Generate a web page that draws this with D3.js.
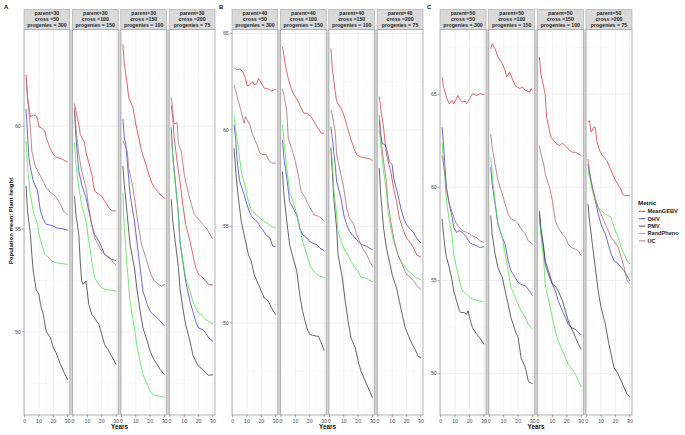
<!DOCTYPE html>
<html><head><meta charset="utf-8">
<script src="https://cdn.jsdelivr.net/npm/d3@7"></script>
<style>body{margin:0;background:#fff}svg{display:block}text{font-family:"Liberation Sans",Arial,sans-serif}</style>
</head><body><svg id="chart" width="685" height="435"></svg>
<script>
const z = (yrs, vals) => yrs.map((y, i) => [y, vals[i]]);

const metrics = ["MeanGEBV", "OHV", "PMV", "RandPheno", "UC"];
const metricColors = ["#c83a3a", "#3b3bb0", "#333333", "#4ddc4d", "#a9646c"];
const panelLetters = ["A", "B", "C"];
const parents = ["30", "40", "50"];
const crosses = ["50", "100", "150", "200"];
const progenies = ["300", "150", "100", "75"];
const xTicks = [0, 10, 20, 30];
const yTicksA = [50, 55, 60];
const yTicksB = [50, 55, 60, 65];
const yTicksC = [50, 55, 60, 65];

// ---- Panel A (parent=30)
const A1_MeanGEBV = z([1,2,4,6,8,9,10,12,14,15,18,19,20,22,26,30],[62.5,61.4,60.45,60.55,60.5,60.34,59.97,59.9,59.77,59.45,58.88,58.77,58.64,58.5,58.4,58.26]);
const A1_OHV = z([1,2,3,4,6,9,10,11,13,15,18,20,22,26,30],[60.83,59.6,58.47,57.99,57.34,56.85,56.36,55.88,55.47,55.23,55.19,55.15,55.06,55.02,54.94]);
const A1_PMV = z([1,2,4,5,6,8,10,11,13,15,18,20,22,25,27,30],[57.09,55.88,54.74,53.77,52.95,52.06,51.82,51.33,50.84,50.03,49.71,49.22,48.98,48.41,48.09,47.68]);
const A1_RandPheno = z([1,2,4,6,9,10,12,14,17,19,22,30],[59.29,57.99,56.69,55.88,55.23,54.74,54.25,53.77,53.6,53.44,53.36,53.28]);
const A1_UC = z([1,2,4,5,7,9,11,13,15,18,20,22,25,27,30],[62.37,61.4,59.94,58.8,58.15,57.82,57.58,57.31,57.01,56.77,56.69,56.53,56.2,55.88,55.67]);

const A2_MeanGEBV = z([1,2,4,5,8,9,11,13,15,18,20,22,25,27,30],[61.1,60.75,60.1,59.61,59.2,58.72,58.23,57.66,56.85,56.69,56.6,56.36,56.04,55.88,55.88]);
const A2_OHV = z([1,2,4,6,9,11,13,15,18,20,22,25,27,30],[60.75,59.45,57.82,57.17,56.53,55.88,55.23,54.74,54.42,54.09,53.77,53.6,53.52,53.47]);
const A2_PMV = z([1,2,4,5,6,7,9,11,13,15,18,20,22,25,27,30],[56.6,55.71,54.74,53.44,52.47,52.31,52.47,51.33,50.84,50.68,50.36,49.87,49.38,49.06,48.81,48.41]);
const A2_RandPheno = z([1,2,4,6,9,11,13,15,18,20,23,30],[59.2,58.15,57.01,56.2,55.39,54.42,53.44,52.63,52.31,52.14,52.06,51.98]);
const A2_UC = z([1,2,4,6,9,11,13,15,18,20,22,26,28,30],[60.9,59.93,58.64,57.82,57.01,56.04,55.23,54.58,54.17,53.93,53.77,53.6,53.36,53.25]);

const A3_MeanGEBV = z([1,2,4,5,8,10,12,14,17,19,21,23,26,28,30],[63.99,63.02,62.05,61.4,60.91,60.1,59.45,58.8,58.15,57.66,57.26,57.01,56.77,56.6,56.49]);
const A3_OHV = z([1,2,3,4,6,9,11,13,15,18,20,22,25,27,30],[60.34,59.45,59.12,58.31,56.69,55.39,54.25,53.12,51.98,51.33,51.01,50.84,50.68,50.52,50.28]);
const A3_PMV = z([1,2,4,6,9,11,13,15,18,20,22,25,27,30],[58.07,57.17,55.71,54.25,53.12,51.98,51.01,50.19,49.55,49.06,48.73,48.41,48.17,47.92]);
const A3_RandPheno = z([1,2,4,6,9,11,13,15,18,20,22,27,30],[56.77,55.06,53.12,51.49,50.19,49.22,48.57,47.92,47.44,47.11,46.95,46.87,46.82]);
const A3_UC = z([1,2,4,5,8,10,12,14,17,19,21,23,26,28,30],[59.29,59.12,58.8,57.99,57.01,56.04,55.06,54.25,53.6,53.12,52.71,52.47,52.31,52.22,52.31]);

const A4_MeanGEBV = z([1,2,3,5,7,9,11,14,16,18,20,23,25,27,30],[61.0,60.42,59.45,58.31,57.34,56.2,55.23,54.42,53.77,53.12,52.79,52.63,52.47,52.31,52.27]);
const A4_OHV = z([1,2,4,6,7,9,11,14,16,18,20,23,25,27,30],[59.94,58.64,57.17,55.71,54.42,53.44,52.47,51.49,51.01,50.52,50.19,50.11,49.95,49.71,49.55]);
const A4_PMV = z([1,2,4,6,7,9,11,14,16,18,20,23,25,27,30],[56.44,55.39,54.25,53.12,52.14,51.17,50.36,49.55,48.9,48.57,48.33,48.17,48.0,47.89,47.92]);
const A4_RandPheno = z([1,2,4,6,7,9,11,14,16,18,20,23,25,27,30],[59.6,58.47,57.01,55.71,54.42,53.44,52.63,51.98,51.49,51.17,50.93,50.76,50.6,50.52,50.39]);
const A4_UC = z([1,2,3,5,6,8,10,13,15,17,19,22,24,26,30],[61.4,60.75,60.1,60.18,59.12,58.8,57.66,56.69,56.2,55.71,55.55,55.31,55.15,54.98,54.5]);

// ---- Panel B (parent=40)
const B1_MeanGEBV = z([1,3,5,7,9,10,12,14,15,17,18,20,22,25,27,30],[63.22,63.1,63.16,63.02,62.67,62.29,62.33,62.5,62.33,62.41,62.67,62.41,62.16,62.12,62.02,62.1]);
const B1_OHV = z([1,2,3,4,5,8,10,12,14,17,19,21,23,26,28,30],[60.26,59.57,58.53,57.84,57.33,56.64,56.12,55.69,55.43,55.26,55.0,54.83,54.57,54.4,53.97,53.97]);
const B1_PMV = z([1,2,3,4,6,9,11,13,15,18,20,22,25,27,30],[59.05,58.02,57.16,56.47,55.26,54.22,53.53,53.19,52.5,51.98,51.64,51.29,51.12,50.78,50.43]);
const B1_RandPheno = z([1,2,4,6,9,11,13,15,18,20,22,25,27,30],[60.74,60.09,59.05,57.84,56.98,56.29,55.86,55.69,55.52,55.34,55.26,55.12,55.0,54.91]);
const B1_UC = z([1,2,4,6,8,9,10,12,14,17,19,21,23,25,27,30],[62.33,62.07,61.47,60.95,60.34,60.69,60.52,60.26,59.74,59.22,58.79,58.71,58.74,58.45,58.28,58.28]);

const B2_MeanGEBV = z([1,3,5,7,9,12,14,16,18,21,23,25,28,30],[64.31,63.36,62.67,62.16,61.81,61.47,61.12,60.86,60.86,60.69,60.43,60.17,59.83,59.83]);
const B2_OHV = z([1,2,4,6,9,11,13,15,18,20,22,25,27,30],[59.48,58.53,57.5,56.29,55.86,55.6,54.91,54.57,54.4,54.22,54.14,54.05,53.88,53.74]);
const B2_PMV = z([1,2,4,6,9,11,13,15,18,20,22,25,26,28,30],[57.84,56.64,55.26,54.05,53.19,52.67,51.47,50.6,49.74,49.4,49.36,49.31,49.31,48.97,48.57]);
const B2_RandPheno = z([1,2,4,6,9,11,13,15,18,20,22,25,27,30],[60.26,59.4,58.02,56.81,56.12,55.6,54.91,54.22,53.53,53.02,52.76,52.5,52.41,52.36]);
const B2_UC = z([1,2,4,5,8,10,12,14,17,19,21,23,26,28,30],[62.12,61.81,60.95,59.57,58.88,58.36,57.67,56.81,56.47,56.12,55.86,55.6,55.52,55.43,55.26]);

const B3_MeanGEBV = z([1,2,4,5,8,10,12,14,17,19,21,23,26,28,30],[64.22,63.19,61.98,61.47,61.12,60.78,60.26,59.74,59.05,58.71,58.62,58.57,58.53,58.5,58.4]);
const B3_OHV = z([1,2,4,5,8,10,12,14,17,19,21,23,26,28,30],[60.17,59.57,58.19,57.33,56.47,55.6,55.09,54.74,54.48,54.31,54.14,54.05,53.97,53.88,53.79]);
const B3_PMV = z([1,2,3,5,6,9,11,13,15,18,20,22,25,27,30],[59.05,57.84,56.47,54.91,53.53,52.33,51.12,50.09,49.22,48.71,48.02,47.5,46.98,46.64,46.12]);
const B3_RandPheno = z([1,2,3,5,6,9,11,13,15,18,20,22,25,27,30],[59.14,58.36,56.98,55.6,54.74,54.05,53.71,53.53,53.19,52.84,52.67,52.36,52.33,52.24,52.12]);
const B3_UC = z([1,2,4,5,8,10,12,14,17,19,21,23,26,28,30],[61.03,60.78,59.91,58.71,57.67,56.98,55.95,55.43,55.09,54.57,54.22,53.88,53.53,53.19,52.93]);

const B4_MeanGEBV = z([1,2,4,6,9,11,13,15,18,20,22,25,27,30],[61.72,61.12,60.09,58.71,57.84,56.98,56.29,55.43,54.74,54.4,54.22,53.88,53.53,53.4]);
const B4_OHV = z([1,2,3,5,6,8,10,11,14,16,18,20,23,25,27,30],[60.52,59.74,59.31,59.22,59.05,58.36,58.19,57.5,56.64,55.95,55.43,55.09,54.83,54.66,54.4,54.14]);
const B4_PMV = z([1,2,4,6,8,10,13,15,17,19,22,24,26,28,30],[58.02,56.64,54.91,53.88,53.19,52.5,51.81,51.12,50.43,49.74,49.22,48.88,48.62,48.28,48.19]);
const B4_RandPheno = z([1,2,4,6,7,9,11,14,16,18,20,23,25,27,30],[60.0,59.22,57.84,56.81,55.78,54.91,54.22,53.53,53.19,53.02,52.76,52.59,52.41,52.33,52.24]);
const B4_UC = z([1,2,4,6,7,9,11,14,16,18,20,23,25,27,30],[60.78,59.74,58.36,57.33,56.29,55.26,54.4,53.53,53.19,52.84,52.5,52.33,52.16,51.95,51.72]);

// ---- Panel C (parent=50)
const C1_MeanGEBV = z([1,2,4,6,8,9,11,12,13,15,17,18,20,22,25,27,30],[65.91,65.38,64.84,64.48,64.66,64.48,64.75,64.93,64.75,64.57,64.62,64.48,64.75,65.02,64.93,65.02,64.98]);
const C1_OHV = z([1,2,3,4,6,8,9,11,13,15,18,20,22,25,27,30],[63.23,62.33,61.08,60.0,59.1,58.39,57.85,57.58,57.67,57.58,57.31,57.04,56.95,56.86,56.77,56.81]);
const C1_PMV = z([1,2,3,4,6,8,9,11,13,14,16,18,19,20,22,25,27,30],[58.3,57.49,56.77,56.24,55.7,54.98,54.44,53.91,53.37,53.28,53.28,53.19,53.37,53.01,52.47,52.11,51.94,51.58]);
const C1_RandPheno = z([1,2,3,4,6,8,9,11,13,15,18,20,22,25,27,30],[62.42,61.43,60.36,59.28,58.21,57.31,56.42,55.7,54.98,54.44,54.27,54.09,54.0,53.94,53.9,53.87]);
const C1_UC = z([1,2,3,4,6,8,9,11,13,15,18,20,22,25,27,30],[61.7,61.25,60.72,59.82,59.1,58.66,58.39,58.03,57.85,57.67,57.58,57.49,57.4,57.31,57.13,57.04]);

const C2_MeanGEBV = z([1,2,4,6,9,11,12,14,16,18,21,23,25,28,29,30],[67.44,67.71,67.44,66.99,66.63,66.27,65.91,66.18,65.82,65.47,65.29,65.38,65.2,65.11,65.29,65.2]);
const C2_OHV = z([1,2,4,6,9,11,13,15,18,20,22,25,27,30],[61.08,60.18,59.1,58.03,57.31,56.95,56.06,55.52,55.16,54.89,54.8,54.71,54.53,54.18]);
const C2_PMV = z([1,2,4,6,9,11,13,15,18,20,22,25,27,28,30],[58.48,57.49,56.42,55.7,55.16,54.44,53.73,53.01,52.29,51.94,50.86,50.32,49.61,49.52,49.46]);
const C2_RandPheno = z([1,2,4,6,9,11,13,15,18,20,22,25,27,30],[61.61,60.72,59.28,58.03,57.31,56.42,55.52,54.62,54.09,53.73,53.37,53.01,52.65,52.38]);
const C2_UC = z([1,2,4,6,9,11,13,15,18,20,22,25,27,30],[62.87,62.15,61.25,60.36,59.64,59.1,58.57,58.3,58.21,58.03,57.76,57.49,57.13,56.95]);

const C3_MeanGEBV = z([1,2,4,5,6,8,9,11,13,15,17,20,22,24,26,28,30],[66.99,66.09,65.38,65.02,63.76,63.05,62.69,62.51,62.33,62.24,62.37,62.15,61.97,61.88,61.88,61.79,61.7]);
const C3_OHV = z([1,2,4,5,8,10,12,14,17,19,21,23,26,28,30],[58.57,57.67,56.6,55.88,55.16,54.8,54.44,53.91,53.37,53.01,52.65,52.47,52.38,52.2,52.08]);
const C3_PMV = z([1,2,4,5,8,10,12,14,17,19,21,23,26,28,30],[58.75,57.85,56.77,56.06,55.34,54.8,54.71,54.44,53.91,53.37,52.83,52.47,51.94,51.58,51.31]);
const C3_RandPheno = z([1,2,4,5,8,10,12,14,17,19,21,23,26,28,30],[58.21,57.49,56.06,54.8,53.73,53.01,52.29,51.76,51.22,50.86,50.5,50.32,49.96,49.61,49.28]);
const C3_UC = z([1,2,4,5,8,10,12,14,17,19,21,23,26,28,30],[62.24,61.79,61.25,60.72,60.0,59.28,58.21,57.85,57.49,57.31,56.95,56.77,56.68,56.59,56.33]);

const C4_MeanGEBV = z([1,2,3,5,6,7,9,11,14,16,18,20,23,25,26,30],[63.49,63.58,62.96,63.23,63.23,62.51,61.97,61.7,61.43,61.08,60.72,60.36,60.0,59.64,59.55,59.55]);
const C4_OHV = z([1,2,4,6,8,10,13,15,17,19,22,24,26,28,30],[61.25,60.72,60.0,59.28,58.57,58.03,57.49,56.95,56.42,56.06,55.88,55.7,55.52,55.25,54.98]);
const C4_PMV = z([1,2,4,6,8,10,13,15,17,19,22,24,26,28,30],[59.1,58.21,56.95,55.7,54.44,53.55,52.65,51.76,51.04,50.32,49.96,49.61,49.25,48.89,48.75]);
const C4_RandPheno = z([1,2,4,6,8,10,13,15,17,19,22,24,26,28,30],[60.9,60.54,59.82,59.28,58.92,58.75,58.57,58.48,58.39,57.85,57.31,56.77,56.42,56.06,55.88]);
const C4_UC = z([1,2,4,6,8,10,13,15,17,19,22,24,26,28,30],[61.52,60.9,60.0,59.46,58.92,58.57,58.03,57.67,57.31,57.13,56.77,56.24,55.7,54.98,54.84]);

const facetData = [
  [[A1_MeanGEBV,A1_OHV,A1_PMV,A1_RandPheno,A1_UC],[A2_MeanGEBV,A2_OHV,A2_PMV,A2_RandPheno,A2_UC],[A3_MeanGEBV,A3_OHV,A3_PMV,A3_RandPheno,A3_UC],[A4_MeanGEBV,A4_OHV,A4_PMV,A4_RandPheno,A4_UC]],
  [[B1_MeanGEBV,B1_OHV,B1_PMV,B1_RandPheno,B1_UC],[B2_MeanGEBV,B2_OHV,B2_PMV,B2_RandPheno,B2_UC],[B3_MeanGEBV,B3_OHV,B3_PMV,B3_RandPheno,B3_UC],[B4_MeanGEBV,B4_OHV,B4_PMV,B4_RandPheno,B4_UC]],
  [[C1_MeanGEBV,C1_OHV,C1_PMV,C1_RandPheno,C1_UC],[C2_MeanGEBV,C2_OHV,C2_PMV,C2_RandPheno,C2_UC],[C3_MeanGEBV,C3_OHV,C3_PMV,C3_RandPheno,C3_UC],[C4_MeanGEBV,C4_OHV,C4_PMV,C4_RandPheno,C4_UC]]
];

// ---- layout
const panels = [
  {left: 24, right: 215, yDomain: [45.96, 64.71], ticks: yTicksA, letterX: 4},
  {left: 232, right: 423, yDomain: [45.23, 65.21], ticks: yTicksB, letterX: 219},
  {left: 440, right: 632, yDomain: [47.78, 68.48], ticks: yTicksC, letterX: 427}
];
const stripTop = 9.3, plotTop = 29.3, plotBottom = 415, gap = 2.6;
const xDomain = [-0.45, 31.45];

const svg = d3.select("#chart");
svg.append("rect").attr("width", 685).attr("height", 435).attr("fill", "#fff");

panels.forEach((P, pi) => {
  const fw = (P.right - P.left - 3 * gap) / 4;
  const y = d3.scaleLinear().domain(P.yDomain).range([plotBottom, plotTop]);
  const g = svg.append("g");

  // panel letter
  g.append("text").attr("x", P.letterX).attr("y", 8.5).attr("font-size", 6).attr("font-weight", "bold").attr("fill", "#111").text(panelLetters[pi]);

  // gaps between facets
  for (let f = 1; f < 4; f++) {
    const gx = P.left + f * (fw + gap) - gap;
    g.append("rect").attr("x", gx).attr("y", plotTop).attr("width", gap).attr("height", plotBottom - plotTop).attr("fill", "#d4d4d4");
  }

  // y axis ticks
  const yMinor = d3.range(Math.ceil(P.yDomain[0] / 2.5) * 2.5, P.yDomain[1], 2.5).filter(v => Math.abs(v % 5) > 0.01);
  P.ticks.forEach(t => {
    g.append("line").attr("x1", P.left - 2.3).attr("x2", P.left).attr("y1", y(t)).attr("y2", y(t)).attr("stroke", "#444").attr("stroke-width", 0.5);
    g.append("text").attr("x", P.left - 3.2).attr("y", y(t)).attr("dy", "0.35em").attr("text-anchor", "end").attr("font-size", 5.3).attr("fill", "#4d4d4d").text(t);
  });

  for (let f = 0; f < 4; f++) {
    const x0 = P.left + f * (fw + gap);
    const x = d3.scaleLinear().domain(xDomain).range([x0, x0 + fw]);
    const fg = g.append("g");
    fg.append("rect").attr("x", x0).attr("y", plotTop).attr("width", fw).attr("height", plotBottom - plotTop).attr("fill", "#fff");
    // minor grid
    [5, 15, 25].forEach(v => fg.append("line").attr("x1", x(v)).attr("x2", x(v)).attr("y1", plotTop).attr("y2", plotBottom).attr("stroke", "#f2f2f2").attr("stroke-width", 0.4));
    yMinor.forEach(v => fg.append("line").attr("x1", x0).attr("x2", x0 + fw).attr("y1", y(v)).attr("y2", y(v)).attr("stroke", "#f2f2f2").attr("stroke-width", 0.4));
    // major grid
    xTicks.forEach(v => fg.append("line").attr("x1", x(v)).attr("x2", x(v)).attr("y1", plotTop).attr("y2", plotBottom).attr("stroke", "#e8e8e8").attr("stroke-width", 0.7));
    P.ticks.forEach(v => fg.append("line").attr("x1", x0).attr("x2", x0 + fw).attr("y1", y(v)).attr("y2", y(v)).attr("stroke", "#e8e8e8").attr("stroke-width", 0.7));

    // lines
    const line = d3.line().x(d => x(d[0])).y(d => y(d[1]));
    facetData[pi][f].forEach((series, mi) => {
      fg.append("path").attr("d", line(series)).attr("fill", "none").attr("stroke", metricColors[mi]).attr("stroke-width", 0.75).attr("stroke-linejoin", "round");
    });

    // border
    fg.append("rect").attr("x", x0).attr("y", plotTop).attr("width", fw).attr("height", plotBottom - plotTop).attr("fill", "none").attr("stroke", "#a8a8a8").attr("stroke-width", 0.9);

    // strip
    fg.append("rect").attr("x", x0).attr("y", stripTop).attr("width", fw).attr("height", plotTop - stripTop).attr("fill", "#d9d9d9").attr("stroke", "#a8a8a8").attr("stroke-width", 0.6);
    const lines = ["parent=" + parents[pi], "cross =" + crosses[f], "progenies = " + progenies[f]];
    lines.forEach((s, li) => {
      fg.append("text").attr("x", x0 + fw / 2).attr("y", stripTop + 5.4 + li * 6.25).attr("text-anchor", "middle").attr("font-size", 5.2).attr("font-weight", "bold").attr("fill", "#262626").text(s);
    });

    // x axis
    xTicks.forEach(v => {
      fg.append("line").attr("x1", x(v)).attr("x2", x(v)).attr("y1", plotBottom).attr("y2", plotBottom + 2.2).attr("stroke", "#444").attr("stroke-width", 0.5);
      fg.append("text").attr("x", x(v)).attr("y", plotBottom + 7.5).attr("text-anchor", "middle").attr("font-size", 5.2).attr("fill", "#4d4d4d").text(v);
    });
  }

  // x title
  g.append("text").attr("x", (P.left + P.right) / 2).attr("y", 428.5).attr("text-anchor", "middle").attr("font-size", 6.3).attr("font-weight", "bold").attr("fill", "#111").text("Years");
});

// y title
svg.append("text").attr("transform", "translate(13,221) rotate(-90)").attr("text-anchor", "middle").attr("font-size", 6).attr("font-weight", "bold").attr("fill", "#111").text("Population mean: Plant height");

// legend
const lg = svg.append("g");
lg.append("text").attr("x", 638).attr("y", 205).attr("font-size", 6.2).attr("font-weight", "bold").attr("fill", "#111").text("Metric");
metrics.forEach((m, i) => {
  const yy = 211.3 + i * 7.4;
  lg.append("line").attr("x1", 639).attr("x2", 645.5).attr("y1", yy).attr("y2", yy).attr("stroke", metricColors[i]).attr("stroke-width", 0.9);
  lg.append("text").attr("x", 647.5).attr("y", yy).attr("dy", "0.35em").attr("font-size", 5.6).attr("font-weight", "bold").attr("fill", "#222").text(m);
});
</script>
</body></html>
